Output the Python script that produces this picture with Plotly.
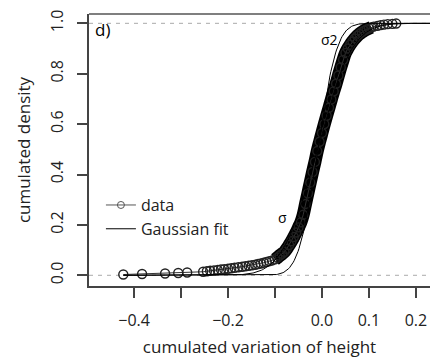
import math
import plotly.graph_objects as go

data_x = [-0.423, -0.383, -0.334, -0.306, -0.287, -0.253, -0.245, -0.238, -0.230, -0.222,
          -0.215, -0.208, -0.200, -0.193, -0.186, -0.178, -0.170, -0.163, -0.156, -0.149,
          -0.142, -0.136, -0.130, -0.124, -0.118, -0.112, -0.106, -0.100, -0.095, -0.090,
          -0.085, -0.080, -0.075, -0.070, -0.065, -0.060, -0.055, -0.050, -0.045, -0.040,
          -0.035, -0.030, -0.025, -0.020, -0.015, -0.010, -0.005, 0.000, 0.005, 0.010,
          0.015, 0.020, 0.025, 0.030, 0.035, 0.040, 0.045, 0.050, 0.055, 0.060,
          0.065, 0.070, 0.075, 0.080, 0.085, 0.090, 0.095, 0.100, 0.105, 0.110,
          0.118, 0.125, 0.132, 0.140, 0.150, 0.158]
data_y = [0.003, 0.005, 0.007, 0.009, 0.011, 0.014, 0.016, 0.018, 0.019, 0.021,
          0.023, 0.024, 0.026, 0.028, 0.030, 0.032, 0.034, 0.036, 0.038, 0.040,
          0.042, 0.045, 0.047, 0.050, 0.053, 0.056, 0.059, 0.063, 0.070, 0.078,
          0.085, 0.093, 0.105, 0.120, 0.135, 0.152, 0.170, 0.190, 0.210, 0.240,
          0.283, 0.325, 0.368, 0.410, 0.450, 0.493, 0.530, 0.565, 0.600, 0.633,
          0.665, 0.698, 0.730, 0.760, 0.793, 0.825, 0.855, 0.882, 0.900, 0.915,
          0.928, 0.940, 0.950, 0.958, 0.965, 0.971, 0.976, 0.980, 0.984, 0.987,
          0.990, 0.993, 0.995, 0.997, 0.998, 0.999]

# Gaussian fit parameters
fit_mu_sigma = -0.010
fit_sd_sigma = 0.058
fit_mu_sigma2 = -0.009
fit_sd_sigma2 = 0.032

x_tickvals = [-0.4, -0.3, -0.2, -0.1, 0.0, 0.1, 0.2]
x_ticktext = ["\u22120.4", "", "\u22120.2", "", "0.0", "0.1", "0.2"]
y_tickvals = [0.0, 0.2, 0.4, 0.6, 0.8, 1.0]
y_ticktext = ["0.0", "0.2", "0.4", "0.6", "0.8", "1.0"]

FONT = "Open Sans"


def norm_cdf(x, mu, sd):
    return 0.5 * (1.0 + math.erf((x - mu) / (sd * math.sqrt(2.0))))


grid_start = min(data_x)
grid = [grid_start + i * 0.002 for i in range(int((0.26 - grid_start) / 0.002) + 1)]
fit1 = [norm_cdf(v, fit_mu_sigma, fit_sd_sigma) for v in grid]
fit2 = [norm_cdf(v, fit_mu_sigma2, fit_sd_sigma2) for v in grid]

fig = go.Figure()

# dense central part of the data cloud (overlapping circles)
band = [(a, b) for a, b in zip(data_x, data_y) if 0.06 <= b <= 0.985]
fig.add_trace(go.Scatter(x=[p[0] for p in band], y=[p[1] for p in band], mode="lines",
                         line=dict(color="black", width=13, shape="spline", smoothing=1.0),
                         showlegend=False, hoverinfo="skip"))
fig.add_trace(go.Scatter(x=data_x, y=data_y, mode="lines+markers", showlegend=False,
                         line=dict(color="#333333", width=1),
                         marker=dict(symbol="circle-open", size=9, color="#222222",
                                     line=dict(width=1.4))))
# legend entries
fig.add_trace(go.Scatter(x=[None], y=[None], mode="lines+markers", name="data",
                         line=dict(color="#555555", width=1),
                         marker=dict(symbol="circle-open", size=7, color="#555555",
                                     line=dict(width=1))))
fig.add_trace(go.Scatter(x=grid, y=fit1, mode="lines", name="Gaussian fit",
                         line=dict(color="black", width=1)))
fig.add_trace(go.Scatter(x=grid, y=fit2, mode="lines", showlegend=False,
                         line=dict(color="black", width=1)))

for yv in (0.0, 1.0):
    fig.add_shape(type="line", xref="paper", yref="y", x0=0, x1=1, y0=yv, y1=yv,
                  line=dict(color="#aaaaaa", width=1, dash="4px,5px"), layer="below")
# top frame line
fig.add_shape(type="line", xref="paper", yref="paper", x0=0, x1=1, y0=1, y1=1,
              line=dict(color="#555555", width=1.5))

fig.add_annotation(x=-0.468, y=0.975, text="d)", showarrow=False,
                   font=dict(family=FONT, size=17, color="black"), xanchor="center")
fig.add_annotation(x=0.017, y=0.935, text="\u03c32", showarrow=False,
                   font=dict(family=FONT, size=14, color="black"))
fig.add_annotation(x=-0.083, y=0.23, text="\u03c3", showarrow=False,
                   font=dict(family=FONT, size=14, color="black"))

fig.update_layout(
    width=430, height=360,
    margin=dict(l=89, r=0, t=14, b=74),
    paper_bgcolor="white", plot_bgcolor="white",
    font=dict(family=FONT, size=16, color="#222222"),
    showlegend=True,
    legend=dict(x=0.035, y=0.36, xanchor="left", yanchor="top",
                bgcolor="rgba(0,0,0,0)", font=dict(size=16),
                tracegroupgap=0, itemwidth=30),
    xaxis=dict(range=[-0.496, 0.23], tickvals=x_tickvals, ticktext=x_ticktext,
               showgrid=False, zeroline=False, showline=True, linecolor="#444444",
               linewidth=1.5, ticks="outside", ticklen=10, tickcolor="#444444",
               tickwidth=1.5, ticklabelstandoff=9,
               title=dict(text="cumulated variation of height", standoff=11,
                          font=dict(size=17))),
    yaxis=dict(range=[-0.0425, 1.037], tickvals=y_tickvals, ticktext=y_ticktext,
               showgrid=False, zeroline=False, showline=True, linecolor="#444444",
               linewidth=1.5, ticks="outside", ticklen=10, tickcolor="#444444",
               tickwidth=1.5, tickangle=-90, ticklabelstandoff=8,
               title=dict(text="cumulated density", standoff=11,
                          font=dict(size=17))),
)

fig.write_html("out.html")
